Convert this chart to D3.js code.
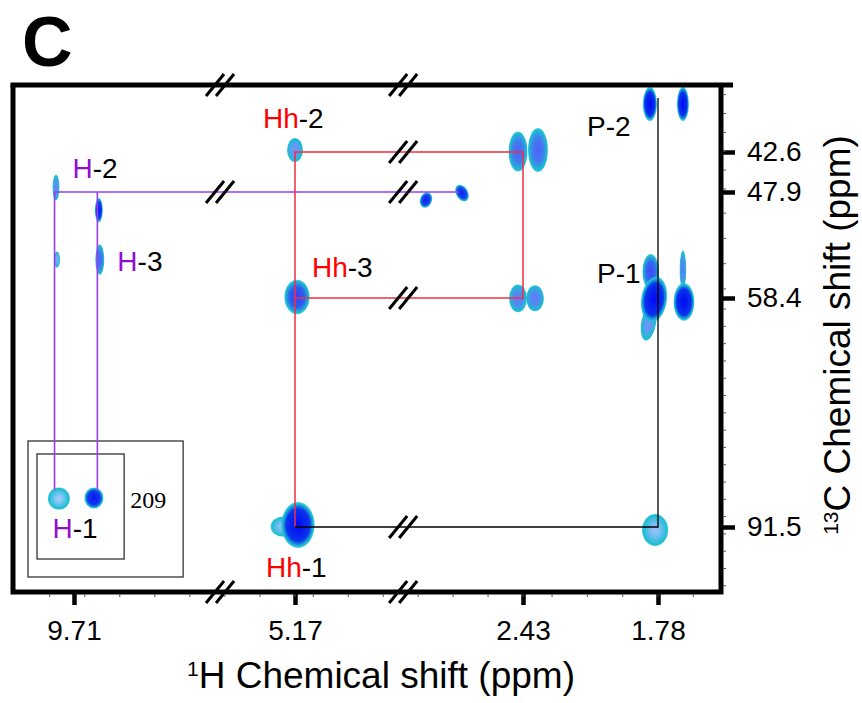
<!DOCTYPE html>
<html>
<head>
<meta charset="utf-8">
<script src="https://cdn.jsdelivr.net/npm/d3@7"></script>
<style>
body { margin: 0; background: #fff; }
svg { display: block; font-family: "Liberation Sans", Arial, Helvetica, sans-serif; }
</style>
</head>
<body>
<svg id="chart"></svg>
<script>
// axis ticks (ppm), broken axes
let hTicks = [9.71, 5.17, 2.43, 1.78]
let cTicks = [42.6, 47.9, 58.4, 91.5]
let hBreaks = [6.71, 3.87]
let cMinor = d3.range(35, 101, 2.5)

// peaks: [1H ppm, 13C ppm, half width 1H, half width 13C, intensity 0-1, tilt]
let peaksH = [
  [10.08, 47.3, 0.072, 1.7, 0.45, 0],
  [9.20, 49.7, 0.082, 1.2, 0.95, 0],
  [10.06, 54.6, 0.062, 0.8, 0.3, 0],
  [9.18, 54.6, 0.092, 1.5, 0.6, 0]
]
// inset (aldehyde region, 209 ppm)
let peaksInset = [
  [10.02, 208.4, 0.226, 0.84, 0.15, 0],
  [9.30, 208.35, 0.195, 0.8, 0.95, 0]
]
let peaksHh = [
  [5.17, 42.33, 0.121, 1.59, 0.4, 0],
  [5.146, 58.3, 0.152, 1.7, 0.75, 0],
  [5.42, 91.45, 0.25, 1.45, 0.2, 0],
  [5.134, 91.21, 0.2, 3.32, 1.0, 0],
  [2.49, 42.55, 0.114, 2.65, 0.6, 0],
  [2.358, 42.33, 0.048, 2.92, 0.6, 0],
  [2.49, 58.45, 0.108, 2.0, 0.5, 0],
  [2.372, 58.45, 0.043, 1.88, 0.5, 0]
]
let peaksOther = [
  [3.596, 48.69, 0.072, 0.79, 0.9, 20],
  [3.163, 48.0, 0.072, 0.89, 0.9, -30]
]
let peaksP = [
  [1.819, 36.24, 0.034, 2.25, 1.0, 0],
  [1.66, 36.24, 0.029, 2.25, 1.0, 0],
  [1.825, 62.0, 0.036, 2.6, 0.4, 10],
  [1.815, 55.8, 0.04, 1.75, 0.7, 0],
  [1.799, 58.6, 0.062, 3.3, 1.0, 8],
  [1.66, 55.6, 0.016, 1.9, 0.5, 0],
  [1.655, 58.98, 0.05, 2.7, 1.0, 0],
  [1.794, 91.93, 0.063, 2.31, 0.2, 0]
]

// spin-system connectivity (1H ppm, 13C ppm)
let hCols = [10.11, 9.23]
let redPath = [[5.17, 91.5], [5.17, 42.6], [2.43, 42.6], [2.43, 58.4], [5.17, 58.4]]
let blackPath = [[5.17, 91.5], [1.78, 91.5], [1.78, 35.45]]
let purpleRow = [[10.11, 47.9], [3.2, 47.9]]

let width = 862
let height = 703
let frame = {left: 13, top: 85, right: 721, bottom: 592}

let svg = d3.select("#chart").attr("width", width).attr("height", height)

// piecewise scales for the broken axes
let x = d3.scaleLinear().domain(hTicks).range([74, 295, 523, 658])
let y = d3.scaleLinear().domain(cTicks).range([152, 192, 298, 527])
let xIn = x
let yIn = d3.scaleLinear().domain([205, 213]).range([454, 559])

let slope = (s, v) => Math.abs(s(v + 0.001) - s(v - 0.001)) / 0.002

let edge = "#1cbdd3"
let defs = svg.append("defs")
defs.append("clipPath").attr("id", "plot")
  .append("rect")
  .attr("x", frame.left).attr("y", frame.top)
  .attr("width", frame.right - frame.left).attr("height", frame.bottom - frame.top)

let gradN = 0
let drawPeaks = (g, data, sx, sy) => {
  data.forEach(d => {
    let id = "pk" + (gradN++)
    let center = d3.interpolateRgb("#c4ecff", "#0206f4")(d[4])
    let grad = defs.append("radialGradient").attr("id", id)
    grad.append("stop").attr("offset", 0).attr("stop-color", center)
    grad.append("stop").attr("offset", 0.25 + 0.45 * d[4])
      .attr("stop-color", d3.interpolateRgb(center, edge)(0.25))
    grad.append("stop").attr("offset", 0.92).attr("stop-color", edge)
    grad.append("stop").attr("offset", 1).attr("stop-color", edge).attr("stop-opacity", 0.75)
    let cx = sx(d[0]), cy = sy(d[1])
    g.append("ellipse")
      .attr("cx", cx).attr("cy", cy)
      .attr("rx", slope(sx, d[0]) * d[2])
      .attr("ry", slope(sy, d[1]) * d[3])
      .attr("transform", "rotate(" + d[5] + "," + cx + "," + cy + ")")
      .attr("fill", "url(#" + id + ")")
  })
}

let breakMark = (g, cx, cy) => {
  ;[-5, 5].forEach(o => {
    g.append("line")
      .attr("x1", cx + o - 9).attr("y1", cy + 11)
      .attr("x2", cx + o + 9).attr("y2", cy - 11)
      .attr("stroke", "#000").attr("stroke-width", 3)
  })
}

// panel letter
svg.append("text").attr("x", 22).attr("y", 66)
  .attr("font-size", 70).attr("font-weight", "bold").text("C")

// peaks
let peakG = svg.append("g").attr("clip-path", "url(#plot)")
drawPeaks(peakG, peaksH, x, y)
drawPeaks(peakG, peaksHh, x, y)
drawPeaks(peakG, peaksOther, x, y)
drawPeaks(peakG, peaksP, x, y)

// inset boxes
let inner = {x0: xIn(10.47), x1: xIn(8.68), y0: yIn.range()[0], y1: yIn.range()[1]}
svg.append("rect").attr("x", inner.x0 - 9).attr("y", inner.y0 - 13)
  .attr("width", inner.x1 - inner.x0 + 68).attr("height", inner.y1 - inner.y0 + 31)
  .attr("fill", "none").attr("stroke", "#333").attr("stroke-width", 1.3)
svg.append("rect").attr("x", inner.x0).attr("y", inner.y0)
  .attr("width", inner.x1 - inner.x0).attr("height", inner.y1 - inner.y0)
  .attr("fill", "none").attr("stroke", "#333").attr("stroke-width", 1.3)
drawPeaks(svg.append("g"), peaksInset, xIn, yIn)
svg.append("text").attr("x", inner.x1 + 6).attr("y", yIn(208.4) + 9)
  .attr("font-family", "'Liberation Serif', 'Times New Roman', serif")
  .attr("font-size", 24).text("209")

// connectivity lines
let line = d3.line().x(d => x(d[0])).y(d => y(d[1]))
svg.append("path").attr("d", line(purpleRow))
  .attr("fill", "none").attr("stroke", "#9a3cf0").attr("stroke-width", 1.6)
hCols.forEach((h, i) => {
  svg.append("line")
    .attr("x1", x(h)).attr("x2", x(h))
    .attr("y1", y(47.9)).attr("y2", yIn(peaksInset[i][1] - peaksInset[i][3] * 0.8))
    .attr("stroke", "#9a3cf0").attr("stroke-width", 1.6)
})
svg.append("path").attr("d", line(redPath))
  .attr("fill", "none").attr("stroke", "#ef2f45").attr("stroke-width", 1.5)
svg.append("path").attr("d", line(blackPath))
  .attr("fill", "none").attr("stroke", "#000").attr("stroke-width", 1.3)

// breaks on the horizontal correlation lines
let breakG = svg.append("g")
let rows = [purpleRow, [redPath[1], redPath[2]], [redPath[3], redPath[4]], [blackPath[0], blackPath[1]]]
rows.forEach(r => {
  let hi = Math.max(r[0][0], r[1][0]), lo = Math.min(r[0][0], r[1][0])
  hBreaks.forEach(b => {
    if (b < hi && b > lo) breakMark(breakG, x(b), y(r[0][1]))
  })
})

// frame
svg.append("path")
  .attr("d", "M" + frame.left + "," + frame.top + "V" + frame.bottom + "H" + frame.right + "V" + frame.top)
  .attr("fill", "none").attr("stroke", "#000").attr("stroke-width", 5)
svg.append("line")
  .attr("x1", frame.left - 2.5).attr("x2", frame.right + 12)
  .attr("y1", frame.top).attr("y2", frame.top)
  .attr("stroke", "#000").attr("stroke-width", 5)
hBreaks.forEach(b => {
  breakMark(breakG, x(b), frame.top)
  breakMark(breakG, x(b), frame.bottom)
})

// axes
let xAxis = d3.axisBottom(x).tickValues(hTicks).tickFormat(d3.format(".2f"))
  .tickSize(13).tickPadding(15)
let gx = svg.append("g").attr("transform", "translate(0," + frame.bottom + ")").call(xAxis)
gx.select(".domain").remove()
gx.selectAll(".tick line").attr("stroke-width", 4.5)
gx.selectAll("text").attr("font-size", 28).attr("font-family", null).attr("fill", "#000")

let yAxis = d3.axisRight(y).tickValues(cTicks).tickFormat(d3.format(".1f"))
  .tickSize(14).tickPadding(12)
let gy = svg.append("g").attr("transform", "translate(" + frame.right + ",0)").call(yAxis)
gy.select(".domain").remove()
gy.selectAll(".tick line").attr("stroke-width", 4.5)
gy.selectAll("text").attr("font-size", 28).attr("font-family", null).attr("fill", "#000")

// minor ticks
svg.append("g").selectAll("line")
  .data(cMinor.filter(v => y(v) > frame.top + 4 && y(v) < frame.bottom - 4))
  .enter().append("line")
  .attr("x1", frame.right + 2).attr("x2", frame.right + 5)
  .attr("y1", d => y(d)).attr("y2", d => y(d))
  .attr("stroke", "#555").attr("stroke-width", 1)
let hMinor = [].concat(d3.range(5.17, 11, 0.72), d3.range(2.43, 5.17, 0.42), d3.range(1.44, 2.43, 0.17))
svg.append("g").selectAll("line")
  .data(hMinor.filter(v => x(v) > frame.left + 3 && x(v) < frame.right - 3))
  .enter().append("line")
  .attr("x1", d => x(d)).attr("x2", d => x(d))
  .attr("y1", frame.bottom + 2).attr("y2", frame.bottom + 5)
  .attr("stroke", "#555").attr("stroke-width", 1)

// axis titles
let xt = svg.append("text").attr("x", 381).attr("y", 688)
  .attr("text-anchor", "middle").attr("font-size", 37)
xt.append("tspan").attr("font-size", 21).attr("dy", -12).text("1")
xt.append("tspan").attr("dy", 12).text("H Chemical shift (ppm)")

let yt = svg.append("text").attr("transform", "translate(850,335) rotate(-90)")
  .attr("text-anchor", "middle").attr("font-size", 37)
yt.append("tspan").attr("font-size", 21).attr("dy", -12).text("13")
yt.append("tspan").attr("dy", 12).text("C Chemical shift (ppm)")

// labels
let purple = "#9010d0", red = "#ff0000"
let labels = [
  {parts: [["H", purple], ["-2", "#000"]], px: x(hCols[0]) + 18, py: y(47.9) - 14},
  {parts: [["H", purple], ["-3", "#000"]], px: x(hCols[1]) + 20, py: y(54.6) + 11},
  {parts: [["Hh", red], ["-2", "#000"]], px: x(5.17) - 32, py: y(42.6) - 24},
  {parts: [["Hh", red], ["-3", "#000"]], px: x(5.17) + 17, py: y(58.4) - 21},
  {parts: [["Hh", red], ["-1", "#000"]], px: x(5.17) - 29, py: y(91.5) + 50},
  {parts: [["H", purple], ["-1", "#000"]], px: x(hCols[0]) - 2, py: yIn(208.4) + 39},
  {parts: [["P-2", "#000"]], px: x(1.78) - 71, py: y(42.6) - 16},
  {parts: [["P-1", "#000"]], px: x(1.78) - 61, py: y(58.4) - 15}
]
labels.forEach(l => {
  let t = svg.append("text").attr("x", l.px).attr("y", l.py).attr("font-size", 28)
  l.parts.forEach(p => t.append("tspan").attr("fill", p[1]).text(p[0]))
})
</script>
</body>
</html>
